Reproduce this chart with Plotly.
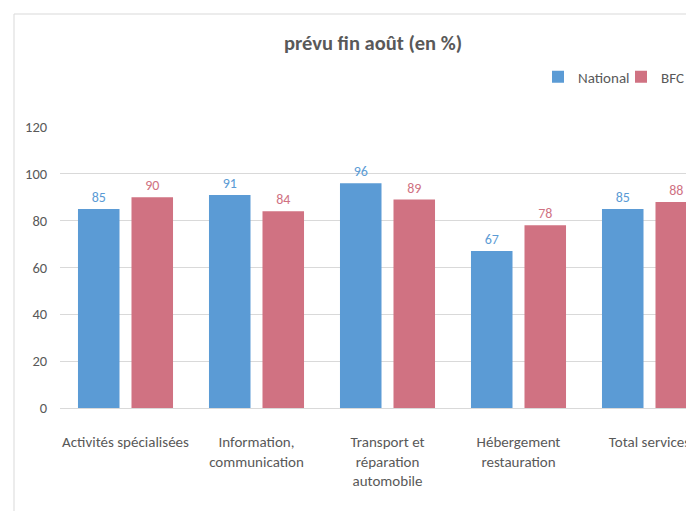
import plotly.graph_objects as go

categories = ["Activités spécialisées", "Information,<br>communication",
              "Transport et<br>réparation<br>automobile", "Hébergement<br>restauration",
              "Total services"]
national = [85, 91, 96, 67, 85]
bfc = [90, 84, 89, 78, 88]
y_ticks = [0, 20, 40, 60, 80, 100, 120]

BLUE = "#5B9BD5"
PINK = "#D07282"
GREY = "#595959"
FONT = "Carlito, 'Liberation Sans Narrow', 'DejaVu Sans Condensed', sans-serif"

fig = go.Figure()
fig.add_trace(go.Bar(name="National", x=list(range(len(categories))), y=national,
                     marker_color=BLUE, marker_line_width=0,
                     text=national, textposition="outside",
                     textfont=dict(color=BLUE, size=14, family=FONT), cliponaxis=False))
fig.add_trace(go.Bar(name="BFC", x=list(range(len(categories))), y=bfc,
                     marker_color=PINK, marker_line_width=0,
                     text=bfc, textposition="outside",
                     textfont=dict(color=PINK, size=14, family=FONT), cliponaxis=False))

# page body has an 8px margin: figure origin sits at (8, 8) of the window
OFF = 8
W, H = 694 - OFF, 519 - 2 * OFF
L, R, T = 60 - OFF, 0, 127 - OFF
B = H - (408 - OFF)
pw, ph = W - L - R, H - T - B

def px_x(x):
    return (x - OFF - L) / pw

def px_y(y):
    return (H - B - (y - OFF)) / ph

fig.update_layout(
    width=W, height=H,
    margin=dict(l=L, r=R, t=T, b=B, autoexpand=False),
    paper_bgcolor="white", plot_bgcolor="white",
    font=dict(family=FONT, color=GREY, size=14),
    title=dict(text="<b>prévu fin août (en %)</b>", x=(373 - OFF) / W, xanchor="center",
               y=1 - (43 - OFF) / H, yanchor="middle", yref="container",
               font=dict(size=20.5, color=GREY, family=FONT)),
    barmode="group", bargap=0.183, bargroupgap=0.224,
    legend=dict(orientation="h", x=px_x(704), xanchor="right", y=px_y(77), yanchor="middle",
                font=dict(size=15, color=GREY, family=FONT), itemwidth=30,
                entrywidth=38, traceorder="normal"),
    xaxis=dict(tickmode="array", tickvals=list(range(len(categories))), ticktext=categories,
               range=[-0.5, -0.5 + pw / 131.0], showgrid=False, zeroline=False,
               showline=True, linecolor="#D9D9D9", ticks="outside", ticklen=20,
               tickcolor="rgba(0,0,0,0)", tickfont=dict(size=15, color=GREY, family=FONT)),
    yaxis=dict(range=[0, 120], tickvals=y_ticks, showgrid=True, gridcolor="#D9D9D9",
               zeroline=False, showline=False, ticks="outside", ticklen=9,
               tickcolor="rgba(0,0,0,0)", tickfont=dict(size=14.5, color=GREY, family=FONT)),
    shapes=[
        dict(type="line", xref="paper", yref="paper", x0=px_x(14), x1=px_x(700),
             y0=px_y(14), y1=px_y(14), line=dict(color="#D9D9D9", width=1)),
        dict(type="line", xref="paper", yref="paper", x0=px_x(14), x1=px_x(14),
             y0=px_y(14), y1=px_y(525), line=dict(color="#D9D9D9", width=1)),
    ],
)

fig.write_html("out.html")
